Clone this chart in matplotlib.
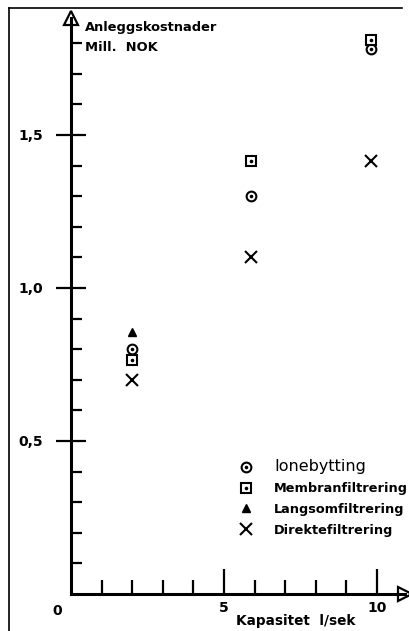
import matplotlib
matplotlib.use("Agg")
import matplotlib.pyplot as plt
from matplotlib.lines import Line2D
from matplotlib.legend_handler import HandlerTuple
from matplotlib.ticker import FixedLocator

# Data (kapasitet l/sek, anleggskostnader mill. NOK)
ione_x = [2.0, 5.9, 9.8]
ione_y = [0.80, 1.30, 1.78]
membran_x = [2.0, 5.9, 9.8]
membran_y = [0.765, 1.415, 1.81]
langsom_x = [2.0]
langsom_y = [0.855]
direkte_x = [2.0, 5.9, 9.8]
direkte_y = [0.70, 1.10, 1.415]

navn = ["Ionebytting", "Membranfiltrering", "Langsomfiltrering", "Direktefiltrering"]

fig = plt.figure(figsize=(4.10, 6.31), dpi=100)
ax = fig.add_axes([71/410, 37/631, 334/410, 576/631])
ax.set_xlim(0, 10.92)
ax.set_ylim(0, 1.882)

for s in ["top", "right"]:
    ax.spines[s].set_visible(False)
for s in ["left", "bottom"]:
    ax.spines[s].set_linewidth(2.2)

# pilspisser
ax.plot(1, 0, marker=">", ms=10, mfc="white", mec="black", mew=1.6,
        transform=ax.transAxes, clip_on=False)
ax.plot(0, 1, marker="^", ms=10, mfc="white", mec="black", mew=1.6,
        transform=ax.transAxes, clip_on=False)

# akser / ticks
ax.yaxis.set_major_locator(FixedLocator([0.5, 1.0, 1.5]))
ax.yaxis.set_minor_locator(FixedLocator([i/10 for i in range(1, 19) if i not in (5, 10, 15)]))
ax.set_yticklabels(["0,5", "1,0", "1,5"])
ax.tick_params(axis="y", which="major", direction="inout", length=22, width=1.6,
               labelsize=10, pad=9)
ax.tick_params(axis="y", which="minor", direction="in", length=8, width=1.6)

ax.xaxis.set_major_locator(FixedLocator([5, 10]))
ax.xaxis.set_minor_locator(FixedLocator([1, 2, 3, 4, 6, 7, 8, 9]))
ax.set_xticklabels(["5", "10"])
ax.tick_params(axis="x", which="major", direction="in", length=18, width=1.6,
               labelsize=10, pad=5)
ax.tick_params(axis="x", which="minor", direction="in", length=10, width=1.6)
for t in ax.get_xticklabels() + ax.get_yticklabels():
    t.set_fontweight("bold")

ax.text(-0.45, -0.032, "0", ha="center", va="top", fontsize=10, fontweight="bold")

ax.text(0.45, 1.871, "Anleggskostnader", ha="left", va="top", fontsize=9.4, fontweight="bold")
ax.text(0.45, 1.806, "Mill.  NOK", ha="left", va="top", fontsize=9.4, fontweight="bold")
ax.text(5.38, -0.066, "Kapasitet  l/sek", ha="left", va="top", fontsize=9.8, fontweight="bold")

# punkter
ms = 7
ax.plot(ione_x, ione_y, "o", ms=ms, mfc="white", mec="black", mew=1.5, clip_on=False)
ax.plot(ione_x, ione_y, "o", ms=1.6, color="black", clip_on=False)
ax.plot(membran_x, membran_y, "s", ms=ms, mfc="white", mec="black", mew=1.5, clip_on=False)
ax.plot(membran_x, membran_y, "o", ms=1.6, color="black", clip_on=False)
ax.plot(langsom_x, langsom_y, "^", ms=6, color="black", clip_on=False)
ax.plot(direkte_x, direkte_y, "x", ms=9, color="black", mew=1.5, clip_on=False)

# forklaring
h_ione = (Line2D([], [], ls="", marker="o", ms=ms, mfc="white", mec="black", mew=1.5),
          Line2D([], [], ls="", marker="o", ms=1.6, color="black"))
h_mem = (Line2D([], [], ls="", marker="s", ms=ms, mfc="white", mec="black", mew=1.5),
         Line2D([], [], ls="", marker="o", ms=1.6, color="black"))
h_lan = Line2D([], [], ls="", marker="^", ms=6, color="black")
h_dir = Line2D([], [], ls="", marker="x", ms=9, color="black", mew=1.5)
leg = ax.legend([h_ione, h_mem, h_lan, h_dir], navn,
                handler_map={tuple: HandlerTuple(ndivide=1, pad=0)},
                loc="upper left", bbox_to_anchor=(232/410, 1 - 453/631),
                bbox_transform=fig.transFigure, frameon=False,
                handlelength=1.2, handletextpad=1.55, labelspacing=0.6,
                borderpad=0, prop={"size": 9.3, "weight": "bold"})
leg.get_texts()[0].set_fontsize(11.5)
leg.get_texts()[0].set_fontweight("normal")

# ramme fra skanningen
fig.add_artist(Line2D([9/410, 9/410], [0, 1 - 8/631], color="black", lw=1.2,
                      transform=fig.transFigure))
fig.add_artist(Line2D([9/410, 402/410], [1 - 8/631, 1 - 8/631], color="black", lw=1.2,
                      transform=fig.transFigure))

fig.savefig("out.png", dpi=100)
